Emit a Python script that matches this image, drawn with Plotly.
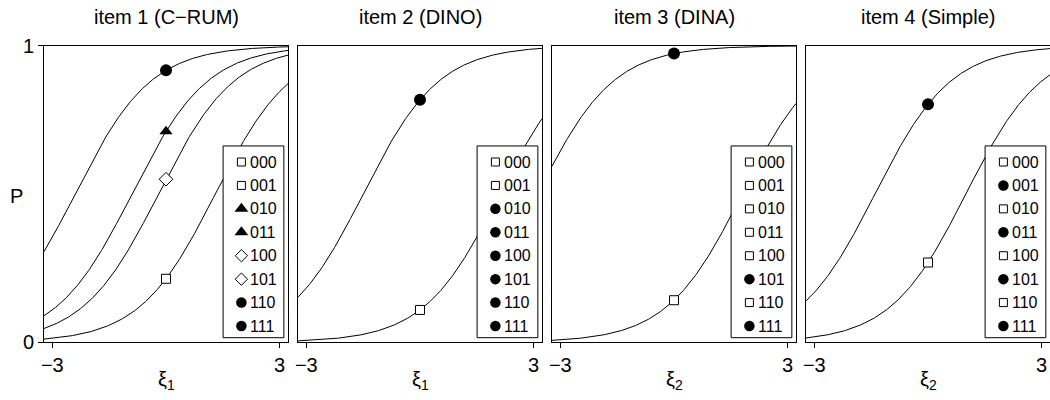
import numpy as np
import plotly.graph_objects as go

# ---------------- data ----------------
patterns = ["000", "001", "010", "011", "100", "101", "110", "111"]
titles = ["item 1 (C\u2212RUM)", "item 2 (DINO)", "item 3 (DINA)", "item 4 (Simple)"]
xlabels = ["\u03be<sub>1</sub>", "\u03be<sub>1</sub>", "\u03be<sub>2</sub>", "\u03be<sub>2</sub>"]

# logistic intercepts (slope 1) for each attribute pattern
item1_intercepts = [-1.3, -1.3, 0.9, 0.9, 0.2, 0.2, 2.4, 2.4]
item2_intercepts = [-2.1, -2.1, 1.5, 1.5, 1.5, 1.5, 1.5, 1.5]
item3_intercepts = [-1.8, -1.8, -1.8, -1.8, -1.8, 3.6, -1.8, 3.6]
item4_intercepts = [-1.0, 1.4, -1.0, 1.4, -1.0, 1.4, -1.0, 1.4]
slope = 1.0

item1_symbols = ["square", "square", "triangle", "triangle", "diamond", "diamond", "circle", "circle"]
item2_symbols = ["square", "square", "circle", "circle", "circle", "circle", "circle", "circle"]
item3_symbols = ["square", "square", "square", "square", "square", "circle", "square", "circle"]
item4_symbols = ["square", "circle", "square", "circle", "square", "circle", "square", "circle"]

marker_xi = 0.0
x_ticks = [-3, 3]
y_ticks = [0, 1]

intercepts = [item1_intercepts, item2_intercepts, item3_intercepts, item4_intercepts]
symbols = [item1_symbols, item2_symbols, item3_symbols, item4_symbols]

# ---------------- style ----------------
W, H = 1050, 400
FONT = "Liberation Sans, Arial, Helvetica, sans-serif"
XR = [-3.22, 3.22]
panel_left = [44, 298, 552, 806]
panel_w = 244
top_px, bot_px = 45.7, 342.3
ydom = [(H - bot_px) / H, (H - top_px) / H]
BIG = 20
LEG = 16

sym_map = {
    "square": dict(symbol="square", color="white", line=dict(color="black", width=1)),
    "circle": dict(symbol="circle", color="black", line=dict(color="black", width=0)),
    "triangle": dict(symbol="triangle-up", color="black", line=dict(color="black", width=0)),
    "diamond": dict(symbol="diamond", color="white", line=dict(color="black", width=1)),
}
curve_size = {"square": 9, "circle": 12, "triangle": 11.5, "diamond": 10.5}
leg_size = {"square": 8, "circle": 10.5, "triangle": 12, "diamond": 9.5}


def xd(f):
    return XR[0] + f * (XR[1] - XR[0])


fig = go.Figure()
annotations = []
xgrid = np.linspace(XR[0], XR[1], 400)

for p in range(4):
    ax = "" if p == 0 else str(p + 1)
    xref, yref = "x" + ax, "y" + ax
    ints = intercepts[p]
    syms = symbols[p]

    # curves (one per distinct intercept)
    seen = []
    for d in ints:
        if d in seen:
            continue
        seen.append(d)
        fig.add_trace(go.Scatter(
            x=xgrid, y=1 / (1 + np.exp(-(slope * xgrid + d))), mode="lines",
            line=dict(color="black", width=1), xaxis=xref, yaxis=yref,
            hoverinfo="skip", showlegend=False))
    # markers at xi = 0
    done = []
    for d, s in zip(ints, syms):
        if (d, s) in done:
            continue
        done.append((d, s))
        m = dict(sym_map[s])
        m["size"] = curve_size[s]
        fig.add_trace(go.Scatter(
            x=[marker_xi], y=[1 / (1 + np.exp(-(slope * marker_xi + d)))], mode="markers",
            marker=m, xaxis=xref, yaxis=yref, showlegend=False, cliponaxis=False))

    # legend box (white filled, covers curves)
    bl, br, bt, bb = 0.734, 0.983, 0.662, 0.0155
    fig.add_trace(go.Scatter(
        x=[xd(bl), xd(br), xd(br), xd(bl), xd(bl)], y=[bb, bb, bt, bt, bb],
        mode="lines", fill="toself", fillcolor="white",
        line=dict(color="black", width=1), xaxis=xref, yaxis=yref,
        hoverinfo="skip", showlegend=False))
    for i, (pat, s) in enumerate(zip(patterns, syms)):
        yc = (bot_px - (162 + i * 23.43)) / (bot_px - top_px)
        m = dict(sym_map[s])
        m["size"] = leg_size[s]
        fig.add_trace(go.Scatter(
            x=[xd(0.809)], y=[yc], mode="markers", marker=m,
            xaxis=xref, yaxis=yref, showlegend=False, hoverinfo="skip"))
        annotations.append(dict(
            x=0.835, y=yc, xref=xref + " domain", yref=yref, text=pat,
            showarrow=False, xanchor="left", yanchor="middle",
            font=dict(family=FONT, size=LEG, color="black")))

    # axes
    l = panel_left[p] / W
    r = min(1.0, (panel_left[p] + panel_w) / W)
    fig.layout["xaxis" + ax] = dict(
        domain=[l, r], range=XR, anchor=yref, tickvals=x_ticks, ticks="outside",
        ticklen=5, tickwidth=1, tickcolor="black", showline=True, mirror=True,
        linecolor="black", linewidth=1, showgrid=False, zeroline=False, automargin=False,
        tickfont=dict(family=FONT, size=BIG, color="black"), fixedrange=True)
    ydict = dict(
        domain=ydom, range=[0, 1], anchor=xref, showline=True, mirror=True,
        linecolor="black", linewidth=1, showgrid=False, zeroline=False, automargin=False,
        fixedrange=True)
    if p == 0:
        ydict.update(tickvals=y_ticks, ticks="outside", ticklen=5, tickwidth=1,
                     tickcolor="black", tickfont=dict(family=FONT, size=BIG, color="black"))
    else:
        ydict.update(showticklabels=False, ticks="")
    fig.layout["yaxis" + ax] = ydict

    cx = (panel_left[p] + panel_w / 2) / W
    annotations.append(dict(
        x=cx, y=(H - 17.5) / H, xref="paper", yref="paper", text=titles[p],
        showarrow=False, xanchor="center", yanchor="middle",
        font=dict(family=FONT, size=BIG, color="black")))
    annotations.append(dict(
        x=cx, y=(H - 380) / H, xref="paper", yref="paper", text=xlabels[p],
        showarrow=False, xanchor="center", yanchor="middle",
        font=dict(family=FONT, size=BIG, color="black")))

annotations.append(dict(
    x=16 / W, y=(H - 196) / H, xref="paper", yref="paper", text="P",
    showarrow=False, xanchor="center", yanchor="middle",
    font=dict(family=FONT, size=BIG, color="black")))

fig.update_layout(
    width=W, height=H, margin=dict(l=0, r=0, t=0, b=0, pad=0, autoexpand=False),
    paper_bgcolor="white", plot_bgcolor="white", showlegend=False,
    annotations=annotations, font=dict(family=FONT, color="black"))

fig.write_html("out.html", config={"responsive": False, "displayModeBar": False})
